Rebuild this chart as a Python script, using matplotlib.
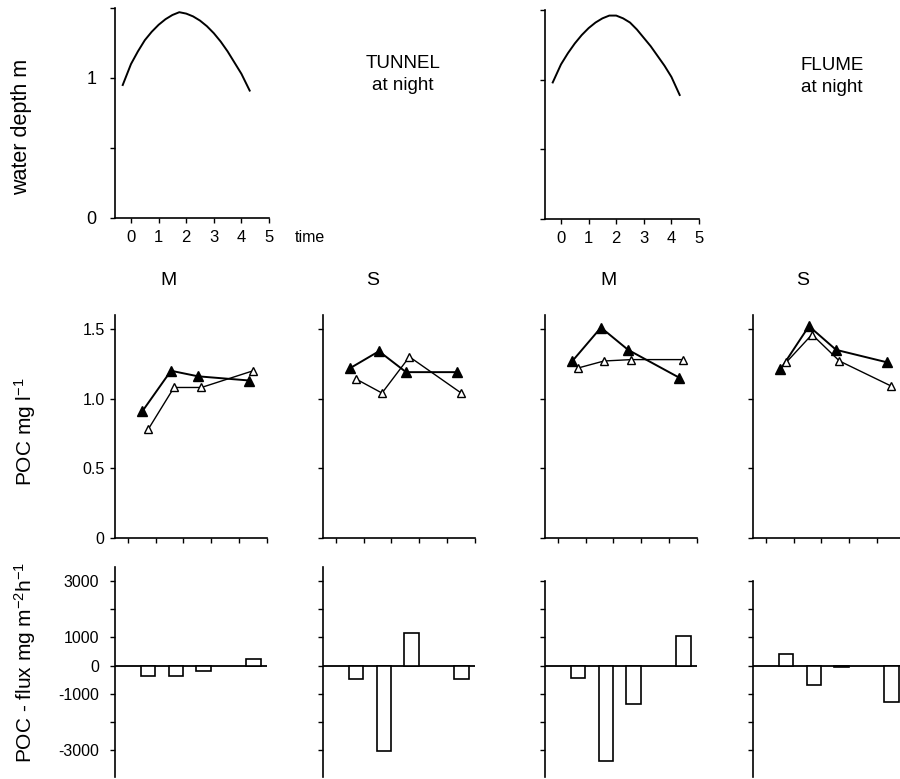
import matplotlib
matplotlib.use('Agg')
import matplotlib.pyplot as plt

plt.rcParams['font.family'] = ['Liberation Sans', 'DejaVu Sans']
plt.rcParams['mathtext.fontset'] = 'custom'
plt.rcParams['mathtext.rm'] = 'Liberation Sans'
plt.rcParams['mathtext.it'] = 'Liberation Sans'
plt.rcParams['mathtext.default'] = 'regular'

# water depth over time
depth_t = [-0.3, 0.0, 0.25, 0.5, 0.75, 1.0, 1.25, 1.5, 1.75, 2.0, 2.25, 2.5,
           2.75, 3.0, 3.25, 3.5, 3.75, 4.0, 4.3]
tunnel_depth = [0.95, 1.10, 1.19, 1.27, 1.33, 1.38, 1.42, 1.45, 1.47, 1.46,
                1.44, 1.41, 1.37, 1.32, 1.26, 1.19, 1.11, 1.03, 0.91]
flume_depth = [0.98, 1.11, 1.19, 1.26, 1.32, 1.37, 1.41, 1.44, 1.46, 1.46,
               1.44, 1.41, 1.36, 1.30, 1.24, 1.17, 1.10, 1.02, 0.89]

# POC concentration, filled / open triangles
filled_t = [0.52, 1.55, 2.53, 4.38]
open_t = [0.73, 1.66, 2.65, 4.52]
poc_filled = {
    'tunnel_M': [0.91, 1.20, 1.16, 1.13],
    'tunnel_S': [1.22, 1.34, 1.19, 1.19],
    'flume_M': [1.27, 1.51, 1.35, 1.15],
    'flume_S': [1.21, 1.52, 1.35, 1.26],
}
poc_open = {
    'tunnel_M': [0.78, 1.08, 1.08, 1.20],
    'tunnel_S': [1.14, 1.04, 1.30, 1.04],
    'flume_M': [1.22, 1.27, 1.28, 1.28],
    'flume_S': [1.26, 1.46, 1.27, 1.09],
}

# POC flux bars
bar_t = [0.72, 1.73, 2.73, 4.52]
flux = {
    'tunnel_M': [-350, -350, -200, 250],
    'tunnel_S': [-470, -3020, 1160, -470],
    'flume_M': [-430, -3400, -1370, 1050],
    'flume_S': [400, -700, -60, -1300],
}

panels = ['tunnel_M', 'tunnel_S', 'flume_M', 'flume_S']
panel_letters = ['M', 'S', 'M', 'S']

W, H = 900, 779
fig = plt.figure(figsize=(W / 100, H / 100), dpi=100)


def px_axes(left, top, right, bottom):
    return fig.add_axes([left / W, 1 - bottom / H, (right - left) / W, (bottom - top) / H])


def style(ax):
    for s in ['top', 'right']:
        ax.spines[s].set_visible(False)
    for s in ['left', 'bottom']:
        ax.spines[s].set_linewidth(1.2)
    ax.tick_params(direction='out', length=3.5, width=1, color='black')


# ---- top row: water depth
ax_tl = px_axes(115, 8, 269, 218)
ax_tr = px_axes(545, 10, 699, 219)
for ax, d in [(ax_tl, tunnel_depth), (ax_tr, flume_depth)]:
    style(ax)
    ax.plot(depth_t, d, color='black', lw=1.4)
    ax.set_xlim(-0.58, 5)
    ax.set_ylim(0, 1.5)
    ax.set_xticks(range(6))
    ax.set_yticks([0, 0.5, 1, 1.5])
    ax.tick_params(axis='x', labelsize=12, pad=5)
    ax.tick_params(axis='y', labelsize=13, pad=10)
ax_tl.set_yticklabels(['0', '', '1', ''])
ax_tr.set_yticklabels([])

fig.text(310 / W, 1 - 238 / H, 'time', fontsize=11.5, ha='center', va='center')
fig.text(403 / W, 1 - 63 / H, 'TUNNEL', fontsize=13.5, ha='center', va='center')
fig.text(403 / W, 1 - 86 / H, 'at night', fontsize=13.5, ha='center', va='center')
fig.text(832 / W, 1 - 65 / H, 'FLUME', fontsize=13.5, ha='center', va='center')
fig.text(832 / W, 1 - 88 / H, 'at night', fontsize=13.5, ha='center', va='center')

fig.text(22 / W, 1 - 127 / H, 'water depth m', fontsize=15.5, rotation=90,
         ha='center', va='center')
fig.text(25 / W, 1 - 432 / H, 'POC mg l$^{-1}$', fontsize=15, rotation=90,
         ha='center', va='center')
fig.text(25 / W, 1 - 662 / H, 'POC - flux mg m$^{-2}$h$^{-1}$', fontsize=15,
         rotation=90, ha='center', va='center')

# ---- middle and bottom rows
col_left = [115, 323, 545, 753]
letter_x = [168, 373, 609, 803]
width_px = 151.5
for i, key in enumerate(panels):
    left = col_left[i]
    # middle: POC concentration
    ax = px_axes(left, 315, left + width_px, 538)
    style(ax)
    ax.plot(filled_t, poc_filled[key], color='black', lw=1.4, marker='^',
            markersize=6.5, markerfacecolor='black', zorder=3)
    ax.plot(open_t, poc_open[key], color='black', lw=1.0, marker='^',
            markersize=6, markerfacecolor='white', markeredgewidth=1.0, zorder=3)
    ax.set_xlim(-0.47, 5)
    ax.set_ylim(0, 1.6)
    ax.set_xticks(range(6))
    ax.set_xticklabels([])
    ax.set_yticks([0, 0.5, 1.0, 1.5])
    if i == 0:
        ax.set_yticklabels(['0', '0.5', '1.0', '1.5'])
        ax.tick_params(axis='y', labelsize=11.5, pad=4)
    else:
        ax.set_yticklabels([])
    fig.text(letter_x[i] / W, 1 - 280 / H, panel_letters[i], fontsize=14,
             ha='center', va='center')

    # bottom: POC flux
    axb = px_axes(left, 567, left + width_px, 777)
    style(axb)
    axb.spines['bottom'].set_visible(False)
    axb.axhline(0, color='black', lw=1.3)
    axb.bar(bar_t, flux[key], width=0.53, facecolor='white', edgecolor='black',
            linewidth=1.2, zorder=3)
    axb.set_xlim(-0.47, 5)
    axb.set_ylim(-3950, 3500)
    if i >= 2:
        axb.spines['left'].set_bounds(-3950, 3000)
    axb.set_xticks([])
    axb.set_yticks([-3000, -2000, -1000, 0, 1000, 2000, 3000])
    if i == 0:
        axb.set_yticklabels(['-3000', '', '-1000', '0', '1000', '', '3000'])
        axb.tick_params(axis='y', labelsize=11.5, pad=8)
    else:
        axb.set_yticklabels([])

fig.savefig('out.png', dpi=100)
